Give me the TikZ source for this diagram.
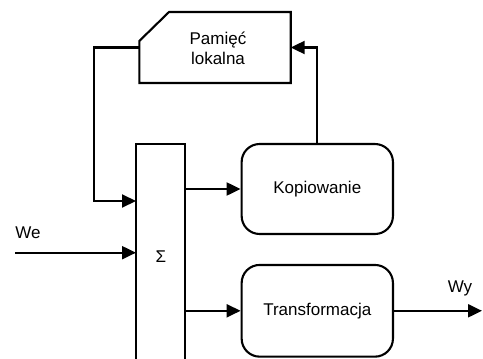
\documentclass[tikz,border=0pt]{standalone}
\usepackage{fontspec}
\setmainfont{Liberation Sans}
\usetikzlibrary{arrows.meta}
\begin{document}
\begin{tikzpicture}[x=1pt,y=-1pt,
  line width=2.1pt,
  font=\fontsize{17}{20}\selectfont,
  arr/.style={-{Triangle[length=14pt,width=13pt]}},
  blockbox/.style={draw,rounded corners=18pt,minimum width=151.3pt,minimum height=90pt,inner sep=0pt},
  plain/.style={inner sep=0pt,outer sep=0pt}]
\useasboundingbox (0,0) rectangle (483,359);

% local memory: box with a cut top-left corner
\node[plain,minimum width=151.4pt,minimum height=71pt] (mem) at (215,47.5) {};
\draw (mem.south west) -- (139.3,41) -- (169,12) -- (mem.north east) -- (mem.south east) -- cycle;
\node[align=center,plain] (memtxt) at (218,48) {Pamięć\\lokalna};

% summing block (open below the frame)
\node[plain,draw,minimum width=49pt,minimum height=236pt] (sig) at (160.5,262) {};
\node[plain] (sigtxt) at (161,257) {Σ};

% processing blocks
\node[blockbox] (kop) at (317.3,189) {Kopiowanie};
\node[blockbox,minimum height=91.7pt] (tr) at (317.3,310.8) {Transformacja};

% free ends and labels
\coordinate (in) at (15,252.7);
\coordinate (out) at (482,310.8);
\coordinate (fbx) at (94,201);
\node[plain] (we) at (28,233) {We};
\node[plain] (wy) at (460,288) {Wy};

% connectors
\draw[arr] (kop.north) |- (mem.east);
\draw[arr] (mem.west) -| (fbx) -- (fbx -| sig.west);
\draw[arr] (in) -- (in -| sig.west);
\draw[arr] (sig.east |- kop.west) -- (kop.west);
\draw[arr] (sig.east |- tr.west) -- (tr.west);
\draw[arr] (tr.east) -- (out);
\end{tikzpicture}
\end{document}
